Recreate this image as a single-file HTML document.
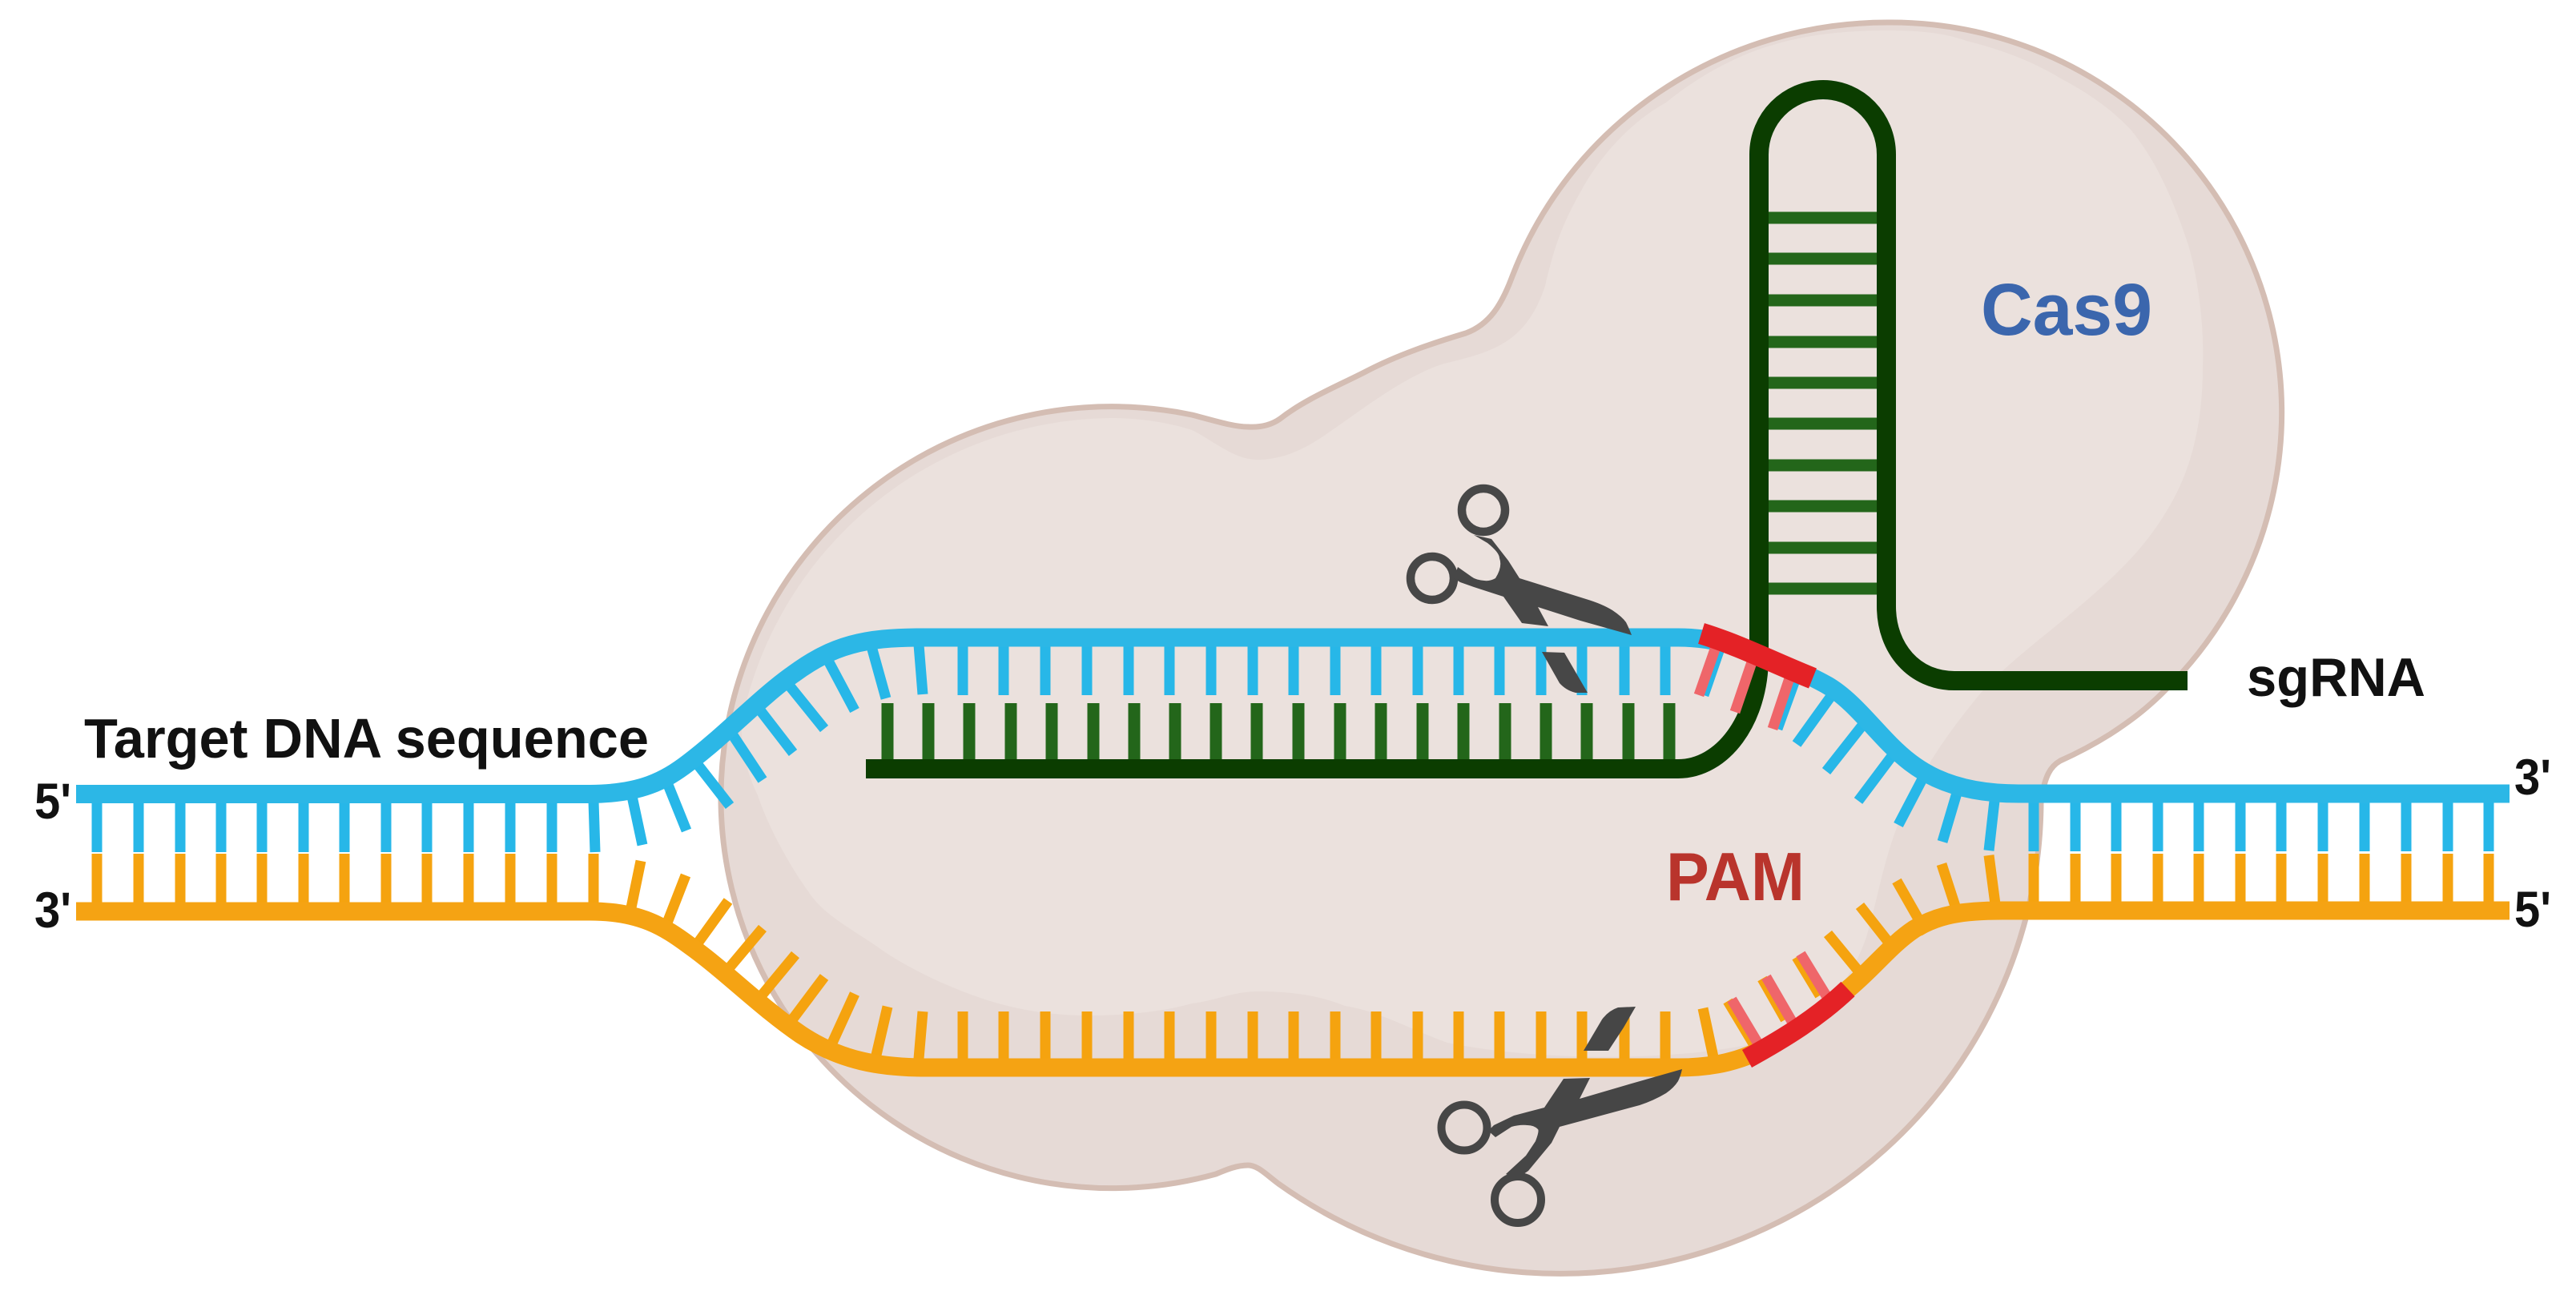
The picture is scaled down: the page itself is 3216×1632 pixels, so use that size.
<!DOCTYPE html>
<html><head><meta charset="utf-8"><title>CRISPR Cas9</title>
<style>html,body{margin:0;padding:0;background:#fff}svg{display:block}text{font-family:"Liberation Sans",sans-serif;font-weight:bold}</style></head>
<body>
<svg xmlns="http://www.w3.org/2000/svg" width="3216" height="1632" viewBox="0 0 3216 1632">
<rect width="3216" height="1632" fill="#fff"/>
<path d="M1558,533 C1575,534 1588,530 1598,523 C1630,498 1670,482 1705,464 C1745,443 1790,428 1830,416 C1860,405 1875,380 1888,345 A500,487 0 0 1 2357,28 A488,487 0 0 1 2702,863 C2680,885 2660,900 2634,917 C2610,932 2590,942 2572,950 C2560,957 2553,968 2548,1000 A600,591 0 0 1 1596,1478 C1580,1466 1570,1455 1558,1455 C1545,1455 1532,1460 1518,1466 A488,488 0 1 1 1488,518 C1515,525 1540,533 1558,533 Z" fill="#e6dad6" stroke="#d4bdb3" stroke-width="7"/>
<path d="M1386,522 C1425,522 1460,528 1488,537 C1515,550 1540,574 1570,574 C1600,574 1625,562 1647,548 C1690,520 1750,470 1803,454 C1860,440 1905,430 1929,357 C1940,310 1950,280 1973,240 C2000,190 2040,150 2080,128 C2120,95 2170,68 2214,56 C2260,42 2310,38 2357,38 C2400,38 2430,42 2455,51 C2500,62 2540,78 2571,97 C2605,115 2635,135 2661,163 C2695,205 2715,255 2732,306 C2745,350 2752,410 2750,459 C2750,530 2735,590 2705,638 C2680,680 2650,710 2616,740 C2560,790 2500,830 2465,875 C2420,930 2390,980 2370,1028 C2350,1080 2345,1120 2330,1170 C2310,1230 2260,1290 2180,1305 C2080,1325 1920,1325 1807,1302 C1760,1285 1720,1262 1679,1256 C1640,1240 1600,1238 1570,1238 C1540,1238 1515,1250 1488,1253 C1450,1264 1400,1268 1360,1268 C1315,1268 1275,1262 1233,1249 C1190,1235 1145,1215 1105,1189 C1065,1160 1030,1145 1009,1113 C985,1080 958,1030 946,993 C930,960 925,930 926,900 A476,476 0 0 1 1386,522 Z" fill="#ebe1dd"/>

<!-- blue teeth -->
<path fill="none" stroke="#27b7e8" stroke-width="13" d="
M121,1000V1064M173,1000V1064M225,1000V1064M276,1000V1064M327,1000V1064M379,1000V1064M430,1000V1064M482,1000V1064M533,1000V1064M585,1000V1064M637,1000V1064M689,1000V1064M741,1000L743,1064
M786,980L802,1055M828,965L857,1037M865,947L911,1006M911,912L952,974M946,883L990,940M983,853L1029,910M1034,825L1067,887M1086,800L1106,872M1147,805L1152,867
M1202,805V868M1253,805V868M1305,805V868M1357,805V868M1409,805V868M1460,805V868M1512,805V868M1564,805V868M1615,805V868M1667,805V868M1718,805V868M1770,805V868M1821,805V868M1872,805V868M1924,805V868M1975,805V868M2028,805V868M2079,805V868
M2147,810L2127,868M2194,829L2172,889M2240,852L2219,910
M2289,865L2243,929M2328,902L2280,963M2365,940L2320,1000M2404,965L2370,1030M2446,980L2425,1051M2490,1000L2483,1062
M2539,1000V1063M2591,1000V1063M2642,1000V1063M2694,1000V1063M2745,1000V1063M2797,1000V1063M2848,1000V1063M2900,1000V1063M2952,1000V1063M3004,1000V1063M3056,1000V1063M3107,1000V1063"/>

<!-- orange teeth -->
<path fill="none" stroke="#f5a30f" stroke-width="13" d="
M121,1066V1128M173,1066V1128M225,1066V1128M276,1066V1128M327,1066V1128M379,1066V1128M430,1066V1128M482,1066V1128M533,1066V1128M585,1066V1128M637,1066V1128M689,1066V1128M741,1066V1128
M800,1075L785,1148M856,1093L828,1165M909,1125L865,1186M952,1159L905,1215M993,1192L945,1250M1029,1220L984,1280M1067,1241L1035,1311M1108,1257L1092,1326M1152,1263L1147,1322
M1202,1263V1325M1253,1263V1325M1305,1263V1325M1357,1263V1325M1409,1263V1325M1460,1263V1325M1512,1263V1325M1564,1263V1325M1615,1263V1325M1667,1263V1325M1718,1263V1325M1770,1263V1325M1821,1263V1325M1872,1263V1325M1924,1263V1325M1975,1263V1325M2028,1263V1325M2079,1263V1325
M2126,1259L2139,1320M2157,1250L2190,1305M2200,1222L2229,1273M2243,1195L2272,1243
M2282,1166L2328,1222M2322,1131L2366,1187M2368,1100L2405,1165M2424,1079L2447,1150M2483,1068L2491,1129
M2539,1066V1127M2591,1066V1127M2642,1066V1127M2694,1066V1127M2745,1066V1127M2797,1066V1127M2848,1066V1127M2900,1066V1127M2952,1066V1127M3004,1066V1127M3056,1066V1127M3107,1066V1127"/>

<!-- green rungs -->
<path fill="none" stroke="#23661a" stroke-width="15" d="
M1108,878V950M1159,878V950M1210,878V950M1262,878V950M1313,878V950M1365,878V950M1416,878V950M1467,878V950M1518,878V950M1569,878V950M1621,878V950M1673,878V950M1724,878V950M1776,878V950M1827,878V950M1879,878V950M1930,878V950M1981,878V950M2033,878V950M2084,878V950
M2205,272H2347M2205,323H2347M2205,375H2347M2205,427H2347M2205,478H2347M2205,529H2347M2205,581H2347M2205,632H2347M2205,684H2347M2205,735H2347"/>

<!-- strands -->
<path fill="none" stroke="#2cb7e6" stroke-width="23" d="M95,991.5 L737,991.5 C800,991 830,975 860,952 C905,918 950,870 990,842 C1040,805 1080,796 1150,796 L2095,796 C2120,796 2150,800 2180,812 C2210,824 2250,838 2280,855 C2310,872 2335,905 2360,930 C2390,960 2430,991 2520,991 L3133,991"/>
<path fill="none" stroke="#f5a313" stroke-width="23" d="M95,1138 L737,1138 C800,1138 830,1158 860,1180 C905,1212 950,1258 1000,1292 C1050,1325 1100,1333 1156,1333 L2095,1333 C2130,1333 2160,1328 2190,1315 C2230,1298 2275,1265 2306,1236 C2340,1208 2360,1180 2390,1160 C2420,1142 2450,1137 2500,1137 L3133,1137"/>

<!-- sgRNA backbone -->
<path fill="none" stroke="#0b3d00" stroke-width="24" d="M1081,960 L2095,960 C2150,960 2196,900 2196,820 L2196,193 C2196,148 2232,112 2276,112 C2320,112 2355,148 2355,193 L2355,757 C2355,810 2390,850 2440,850 L2731,850"/>

<!-- pale PAM teeth -->
<path fill="none" stroke="#ef666a" stroke-width="13" d="M2143,805L2121,868M2188,824L2166,889M2234,847L2213,910M2162,1248L2196,1305M2205,1220L2238,1277M2248,1191L2281,1245"/>
<!-- red PAM -->
<path fill="none" stroke="#e42226" stroke-width="27" d="M2124,791 C2170,805 2220,830 2263,847"/>
<path fill="none" stroke="#e42226" stroke-width="25" d="M2181,1322 C2230,1295 2270,1270 2307,1235"/>

<!-- upper scissors -->
<g fill="#474747">
<circle cx="1852" cy="637" r="27" fill="none" stroke="#474747" stroke-width="10.5"/>
<circle cx="1788" cy="722" r="27" fill="none" stroke="#474747" stroke-width="10.5"/>
<path d="M1840,668 L1857,678 Q1872,690 1872,697 Q1876,708 1867,722 Q1860,726 1853,725 Q1842,724 1837,720 L1820,708 L1815,722 L1823,727 L1840,733 L1877,745 L1900,778 L1933,782 L1920,758 L1973,775 L2037,793 Q2034,785 2030,777 Q2025,770 2013,762 Q2000,754 1980,748 L1897,722 L1883,700 L1862,673 Z"/>
<path d="M1925,814 L1953,815 L1982,865 L1967,865 Q1955,862 1947,853 Z"/>
</g>
<!-- lower scissors -->
<g fill="#464646">
<circle cx="1828" cy="1408" r="28.5" fill="none" stroke="#464646" stroke-width="10"/>
<ellipse cx="1895" cy="1498" rx="29" ry="29" fill="none" stroke="#464646" stroke-width="10"/>
<path d="M2042,1257 L2020,1258 Q2008,1262 2000,1273 L1977,1312 L2008,1312 L2027,1283 Z"/>
<path d="M1952,1347 L1985,1346 L1972,1372 L2030,1355 L2100,1335 Q2098,1344 2095,1350 Q2090,1358 2080,1365 Q2065,1374 2047,1380 L1947,1407 L1937,1427 L1908,1462 L1893,1472 L1880,1466 L1905,1443 L1917,1425 Q1922,1412 1920,1410 Q1915,1405 1907,1405 Q1897,1404 1887,1407 L1867,1420 L1858,1412 L1865,1405 L1890,1393 L1928,1383 Z"/>
</g>

<!-- labels -->
<text x="2473" y="418" font-size="92" fill="#3b66ad" textLength="214" lengthAdjust="spacingAndGlyphs">Cas9</text>
<text x="2080" y="1124" font-size="85" fill="#b9342c" textLength="173" lengthAdjust="spacingAndGlyphs">PAM</text>
<text x="105" y="946" font-size="70" fill="#111" textLength="705" lengthAdjust="spacingAndGlyphs">Target DNA sequence</text>
<text x="2805" y="869" font-size="68" fill="#111" textLength="223" lengthAdjust="spacingAndGlyphs">sgRNA</text>
<text x="43" y="1022" font-size="63" fill="#111" textLength="46" lengthAdjust="spacingAndGlyphs">5'</text>
<text x="43" y="1158" font-size="63" fill="#111" textLength="46" lengthAdjust="spacingAndGlyphs">3'</text>
<text x="3139" y="992" font-size="63" fill="#111" textLength="46" lengthAdjust="spacingAndGlyphs">3'</text>
<text x="3139" y="1157" font-size="63" fill="#111" textLength="46" lengthAdjust="spacingAndGlyphs">5'</text>
</svg>
</body></html>
